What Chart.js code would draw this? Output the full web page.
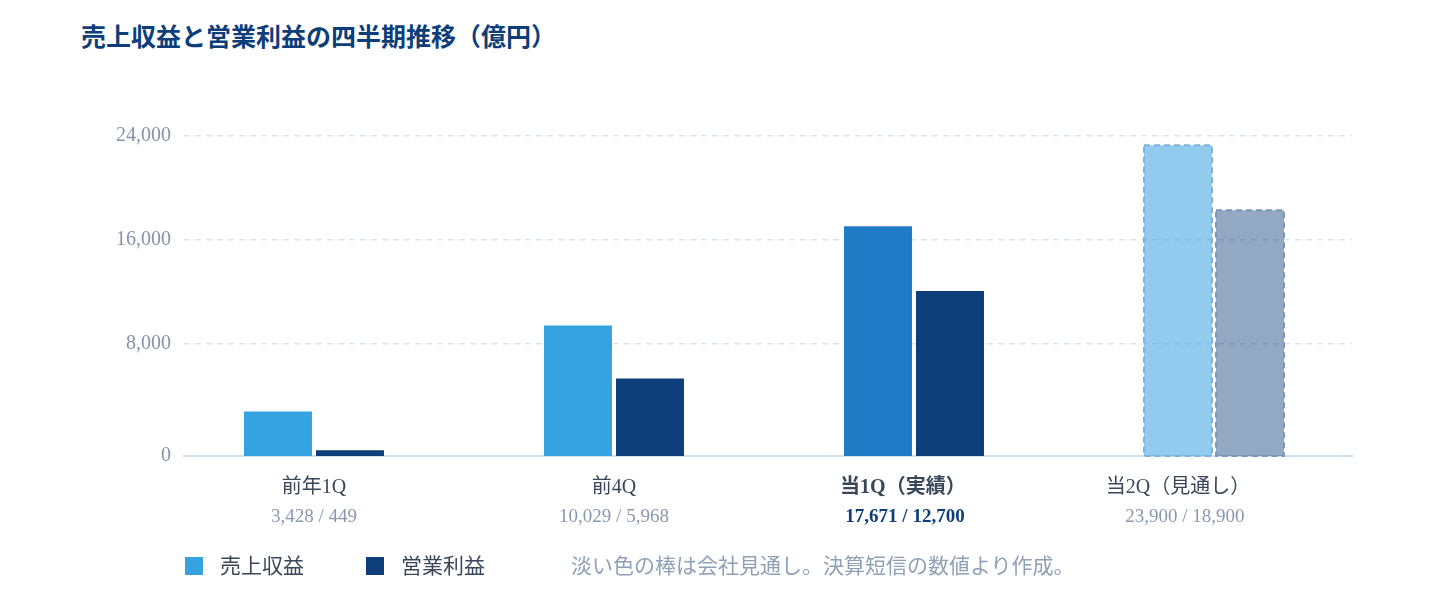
<!DOCTYPE html>
<html lang="ja">
<head>
    <meta charset="UTF-8">
    <title>売上収益と営業利益の四半期推移（億円）</title>
    <script src="https://cdn.jsdelivr.net/npm/chart.js"></script>
    <style>
        html, body { margin: 0; padding: 0; background: #fff; }
        body {
            width: 1440px; height: 600px; position: relative; overflow: hidden;
            font-family: "Liberation Serif", "Noto Sans CJK JP", serif;
        }
        #title {
            position: absolute; left: 81px; top: 22px; margin: 0;
            font-size: 25px; line-height: 32px; font-weight: bold; color: #0E3E7A;
        }
        #chartBox { position: absolute; left: 0; top: 0; width: 1440px; height: 600px; }
        #legend {
            position: absolute; left: 185px; top: 552px;
            display: flex; align-items: center;
            font-size: 21px; line-height: 28px; color: #3A475A;
        }
        .key { display: flex; align-items: center; }
        .swatch { width: 18px; height: 18px; margin-right: 17px; }
        .note { color: #8FA1B7; }
    </style>
</head>
<body>
    <h1 id="title">売上収益と営業利益の四半期推移（億円）</h1>

    <div id="chartBox">
        <canvas id="chart" width="1440" height="600"></canvas>
    </div>

    <!-- Legend + note -->
    <div id="legend">
        <div class="key" style="margin-right:62px;"><span class="swatch" style="background:#36A3E1;"></span>売上収益</div>
        <div class="key" style="margin-right:86px;"><span class="swatch" style="background:#0E3E7A;"></span>営業利益</div>
        <div class="note">淡い色の棒は会社見通し。決算短信の数値より作成。</div>
    </div>

    <script>
        // Data (億円)
        const categories = ['前年1Q', '前4Q', '当1Q（実績）', '当2Q（見通し）'];
        const revenue = [3428, 10029, 17671, 23900];
        const profit = [449, 5968, 12700, 18900];
        const isForecast = [false, false, false, true];
        const highlightIndex = 2;   // 当1Q (actual) is emphasised
        const yTicks = [0, 8000, 16000, 24000];

        const fmt = v => v.toLocaleString('en-US');
        const valueLabels = revenue.map((r, i) => `${fmt(r)} / ${fmt(profit[i])}`);

        const FONT = '"Liberation Serif", "Noto Sans CJK JP", serif';
        const X_MIN = -0.4333, X_MAX = 3.46;
        // in the original the dashed grid sits ~8px above the bar scale,
        // so the grid axis is shifted by that much (8px = 615)
        const GRID_SHIFT = 615;
        const Y_MAX = 24000;
        // the last two captions sit a little left of their bar pairs in the original
        const NAME_SHIFT = [0, 0, -0.037, -0.12];
        const VALUE_SHIFT = [0, 0, -0.03, -0.097];
        const NO_SHIFT = [0, 0, 0, 0];

        // Dashed outline for forecast bars (bar elements don't support borderDash)
        const forecastOutline = {
            id: 'forecastOutline',
            afterDatasetsDraw(chart) {
                const ctx = chart.ctx;
                chart.data.datasets.forEach((ds, di) => {
                    const meta = chart.getDatasetMeta(di);
                    meta.data.forEach((bar, i) => {
                        if (!isForecast[i]) return;
                        const { x, y, base, width } = bar.getProps(['x', 'y', 'base', 'width'], true);
                        ctx.save();
                        ctx.strokeStyle = ds.dashColor;
                        ctx.lineWidth = 2;
                        ctx.setLineDash([6, 4]);
                        ctx.strokeRect(x - width / 2, y, width, base - y);
                        ctx.restore();
                    });
                });
            }
        };

        const ticksAt = shift => scale => {
            scale.ticks = categories.map((_, i) => ({ value: i + shift[i] }));
        };

        new Chart(document.getElementById('chart'), {
            type: 'bar',
            data: {
                datasets: [
                    {
                        label: '売上収益',
                        xAxisID: 'xb',
                        yAxisID: 'yb',
                        data: revenue.map((v, i) => ({ x: i, y: v })),
                        backgroundColor: ctx => isForecast[ctx.dataIndex] ? 'rgba(54,163,225,0.55)'
                            : ctx.dataIndex === highlightIndex ? '#1F7BC6' : '#36A3E1',
                        dashColor: '#7DB1DE'
                    },
                    {
                        label: '営業利益',
                        xAxisID: 'xb',
                        yAxisID: 'yb',
                        data: profit.map((v, i) => ({ x: i, y: v })),
                        backgroundColor: ctx => isForecast[ctx.dataIndex] ? 'rgba(14,62,122,0.45)' : '#0E3E7A',
                        dashColor: '#7D95B7'
                    }
                ]
            },
            options: {
                responsive: false,
                animation: false,
                devicePixelRatio: 1,
                categoryPercentage: 0.48,
                barPercentage: 0.944,
                layout: { padding: { left: 80, right: 88, top: 136, bottom: 66 } },
                plugins: {
                    legend: { display: false },
                    tooltip: { enabled: false }
                },
                scales: {
                    // axes the bars are placed on (not drawn)
                    xb: {
                        type: 'linear',
                        position: 'bottom',
                        display: false,
                        offset: false,
                        min: X_MIN,
                        max: X_MAX,
                        afterBuildTicks: ticksAt(NO_SHIFT)
                    },
                    yb: {
                        type: 'linear',
                        position: 'left',
                        display: false,
                        min: 0,
                        max: Y_MAX + GRID_SHIFT
                    },
                    // quarter names + baseline
                    x: {
                        type: 'linear',
                        position: 'bottom',
                        offset: false,
                        min: X_MIN,
                        max: X_MAX,
                        afterBuildTicks: ticksAt(NAME_SHIFT),
                        afterFit: s => { s.height = 46; },
                        grid: { display: false, drawTicks: false },
                        border: { display: true, color: '#D0DFF0', width: 2 },
                        ticks: {
                            autoSkip: false,
                            maxRotation: 0,
                            padding: 20,
                            color: '#3A475A',
                            font: ctx => ({ family: FONT, size: 20, weight: ctx.index === highlightIndex ? 'bold' : 'normal' }),
                            callback: (v, i) => categories[i]
                        }
                    },
                    // sales / profit figures under each name
                    x2: {
                        type: 'linear',
                        position: 'bottom',
                        weight: 1,
                        offset: false,
                        min: X_MIN,
                        max: X_MAX,
                        afterBuildTicks: ticksAt(VALUE_SHIFT),
                        afterFit: s => { s.height = 32; },
                        grid: { display: false, drawTicks: false },
                        border: { display: false },
                        ticks: {
                            autoSkip: false,
                            maxRotation: 0,
                            padding: 4,
                            color: ctx => ctx.index === highlightIndex ? '#0E3E7A' : '#8898AE',
                            font: ctx => ({ family: FONT, size: 19, weight: ctx.index === highlightIndex ? 'bold' : 'normal' }),
                            callback: (v, i) => valueLabels[i]
                        }
                    },
                    // tick labels + dashed grid; "0" sits on the baseline
                    y: {
                        type: 'linear',
                        position: 'left',
                        min: -GRID_SHIFT,
                        max: Y_MAX,
                        afterBuildTicks: s => { s.ticks = yTicks.map(v => ({ value: v === 0 ? s.min : v })); },
                        afterFit: s => { s.width = 104; },
                        grid: {
                            color: ctx => ctx.index === 0 ? 'rgba(0,0,0,0)' : '#D5E3F3',
                            lineWidth: 1.5,
                            drawTicks: false
                        },
                        border: { display: false, dash: [6, 5] },
                        ticks: {
                            padding: 13,
                            color: '#8394AB',
                            font: { family: FONT, size: 20 },
                            callback: (v, i) => fmt(yTicks[i])
                        }
                    }
                }
            },
            plugins: [forecastOutline]
        });
    </script>
</body>
</html>
